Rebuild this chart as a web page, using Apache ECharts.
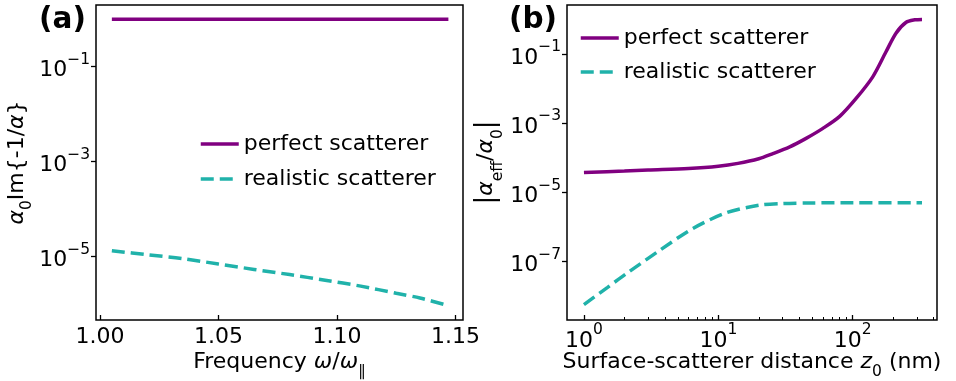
<!DOCTYPE html>
<html>
<head>
<meta charset="utf-8">
<script src="https://cdn.jsdelivr.net/npm/echarts@6/dist/echarts.min.js"></script>
<style>
  html, body { margin: 0; padding: 0; background: #fff; }
  #chart { width: 956px; height: 381px; }
</style>
</head>
<body>
<div id="chart"></div>
<script>
// panel (a): frequency sweep
var freq = [1.005, 1.02, 1.035, 1.05, 1.065, 1.08, 1.095, 1.11, 1.125, 1.135, 1.147];
var perfectA = [1, 1, 1, 1, 1, 1, 1, 1, 1, 1, 1];
var realisticA = [1.34e-5, 1.1e-5, 9.1e-6, 7.0e-6, 5.4e-6, 4.2e-6, 3.2e-6, 2.4e-6, 1.7e-6, 1.35e-6, 9.3e-7];

// panel (b): distance sweep (nm)
var distP = [1, 2, 3, 6, 10, 14, 20, 25, 34, 45, 60, 80, 106, 141, 177, 210, 250, 290, 328];
var perfectB = [3.8e-5, 4.2e-5, 4.5e-5, 5.0e-5, 5.8e-5, 7.0e-5, 9.5e-5, 1.3e-4, 2.1e-4, 3.7e-4, 7.2e-4, 1.6e-3, 5.3e-3, 0.0224, 0.119, 0.41, 0.85, 1.0, 1.03];
var distR = [1, 1.5, 2.07, 3.65, 6.46, 11.5, 20.2, 30, 50, 100, 328];
var realisticB = [5.7e-9, 1.8e-8, 4.5e-8, 2.1e-7, 9.1e-7, 2.6e-6, 4.3e-6, 4.8e-6, 5.0e-6, 5.1e-6, 5.1e-6];

var xTicksA = [1.00, 1.05, 1.10, 1.15];
var yTicksA = [1e-1, 1e-3, 1e-5];
var xTicksB = [1, 10, 100];
var xMinorB = [2, 3, 4, 5, 6, 7, 8, 9, 20, 30, 40, 50, 60, 70, 80, 90, 200, 300, 400];
var yTicksB = [1e-1, 1e-3, 1e-5, 1e-7];

var names = ["perfect scatterer", "realistic scatterer"];

var font = "DejaVu Sans";
var fs = 22;
var purple = "#800080";
var teal = "#20b2aa";

function zip(xs, ys) {
  return xs.map(function (x, i) { return [x, ys[i]]; });
}

function powLabel(v) {
  var e = Math.round(Math.log10(v));
  var s = e < 0 ? "\u2212" + (-e) : "" + e;
  return "{b|10}{s|" + s + "}";
}

var powRich = {
  b: { fontSize: fs, fontFamily: font, color: "#000", lineHeight: 30, verticalAlign: "bottom" },
  s: { fontSize: 15.5, fontFamily: font, color: "#000", verticalAlign: "top", lineHeight: 18 }
};

var mathRich = {
  i: { fontSize: fs, fontFamily: font, fontStyle: "italic", color: "#000" },
  sub: { fontSize: 15.5, fontFamily: font, color: "#000", verticalAlign: "bottom", padding: [0, 0, -7, 0] },
  bar: { fontSize: 26, fontFamily: font, color: "#000" }
};

var legendBase = {
  data: names, orient: "vertical", itemWidth: 38, itemHeight: 4, padding: 0,
  itemStyle: { opacity: 0 }, lineStyle: { width: 3.5 },
  textStyle: { fontSize: fs, fontFamily: font, color: "#000" }
};

var chart = echarts.init(document.getElementById("chart"));

var option = {
  animation: false,
  backgroundColor: "#fff",
  textStyle: { fontFamily: font },
  title: [
    { text: "(a)", left: 34, top: 0, textStyle: { fontSize: 29.5, fontWeight: "bold", color: "#000", fontFamily: font } },
    { text: "(b)", left: 504, top: 0, textStyle: { fontSize: 29.5, fontWeight: "bold", color: "#000", fontFamily: font } }
  ],
  grid: [
    { left: 96, top: 5, width: 367, height: 315, show: true, borderColor: "#000", borderWidth: 1.5, containLabel: false, outerBoundsMode: "none" },
    { left: 567, top: 5, width: 370, height: 315, show: true, borderColor: "#000", borderWidth: 1.5, containLabel: false, outerBoundsMode: "none" }
  ],
  legend: [
    Object.assign({}, legendBase, { left: 199, top: 133, itemGap: 13 }),
    Object.assign({}, legendBase, { left: 579, top: 27, itemGap: 12 })
  ],
  xAxis: [
    {
      type: "value", gridIndex: 0, min: 0.99831, max: 1.15316,
      splitLine: { show: false }, axisLine: { show: false },
      axisTick: { inside: true, length: 5, lineStyle: { color: "#000", width: 1.3 }, customValues: xTicksA },
      axisLabel: { fontSize: fs, fontFamily: font, color: "#000", margin: 6, customValues: xTicksA, formatter: function (v) { return v.toFixed(2); } },
      name: "Frequency {i|\u03c9}/{i|\u03c9}{sub|\u2225}", nameLocation: "middle", nameGap: 31, nameMoveOverlap: false,
      nameTextStyle: { fontSize: fs, fontFamily: font, color: "#000", rich: mathRich }
    },
    {
      type: "log", gridIndex: 1, min: 0.748, max: 424,
      splitLine: { show: false }, axisLine: { show: false },
      axisTick: { inside: true, length: 5, lineStyle: { color: "#000", width: 1.3 }, customValues: xTicksB },
      axisLabel: { color: "#000", margin: 2, customValues: xTicksB, formatter: powLabel, rich: powRich },
      name: "Surface-scatterer distance {i|z}{sub|0} (nm)", nameLocation: "middle", nameGap: 31, nameMoveOverlap: false,
      nameTextStyle: { fontSize: fs, fontFamily: font, color: "#000", rich: mathRich }
    },
    {
      type: "log", gridIndex: 1, min: 0.748, max: 424, position: "bottom",
      splitLine: { show: false }, axisLine: { show: false },
      axisTick: { inside: true, length: 3, lineStyle: { color: "#000", width: 1 }, customValues: xMinorB },
      axisLabel: { show: false }
    }
  ],
  yAxis: [
    {
      type: "log", gridIndex: 0, min: 4.65e-7, max: 1.99,
      splitLine: { show: false }, axisLine: { show: false },
      axisTick: { length: 5, lineStyle: { color: "#000", width: 1.3 }, customValues: yTicksA },
      axisLabel: { margin: 6, customValues: yTicksA, formatter: powLabel, rich: powRich },
      name: "{i|\u03b1}{sub|0}Im{-1/{i|\u03b1}}", nameLocation: "middle", nameGap: 60, nameRotate: 90,
      nameTextStyle: { fontSize: fs, fontFamily: font, color: "#000", rich: mathRich }
    },
    {
      type: "log", gridIndex: 1, min: 2.04e-9, max: 2.69,
      splitLine: { show: false }, axisLine: { show: false },
      axisTick: { length: 5, lineStyle: { color: "#000", width: 1.3 }, customValues: yTicksB },
      axisLabel: { margin: 6, customValues: yTicksB, formatter: powLabel, rich: powRich },
      name: "{bar||}{i|\u03b1}{sub|eff}/{i|\u03b1}{sub|0}{bar||}", nameLocation: "middle", nameGap: 64, nameRotate: 90,
      nameTextStyle: { fontSize: fs, fontFamily: font, color: "#000", rich: mathRich }
    }
  ],
  series: [
    {
      name: names[0], type: "line", xAxisIndex: 0, yAxisIndex: 0, data: zip(freq, perfectA),
      showSymbol: false, symbol: "none", lineStyle: { color: purple, width: 3.5 }, itemStyle: { color: purple }
    },
    {
      name: names[1], type: "line", xAxisIndex: 0, yAxisIndex: 0, data: zip(freq, realisticA),
      showSymbol: false, symbol: "none", smooth: 0.3,
      lineStyle: { color: teal, width: 3.5, type: [13, 6] }, itemStyle: { color: teal }
    },
    {
      name: names[0], type: "line", xAxisIndex: 1, yAxisIndex: 1, data: zip(distP, perfectB),
      showSymbol: false, symbol: "none", smooth: 0.3,
      lineStyle: { color: purple, width: 3.5 }, itemStyle: { color: purple }
    },
    {
      name: names[1], type: "line", xAxisIndex: 1, yAxisIndex: 1, data: zip(distR, realisticB),
      showSymbol: false, symbol: "none", smooth: 0.3,
      lineStyle: { color: teal, width: 3.5, type: [13, 6] }, itemStyle: { color: teal }
    }
  ]
};

chart.setOption(option);
</script>
</body>
</html>
